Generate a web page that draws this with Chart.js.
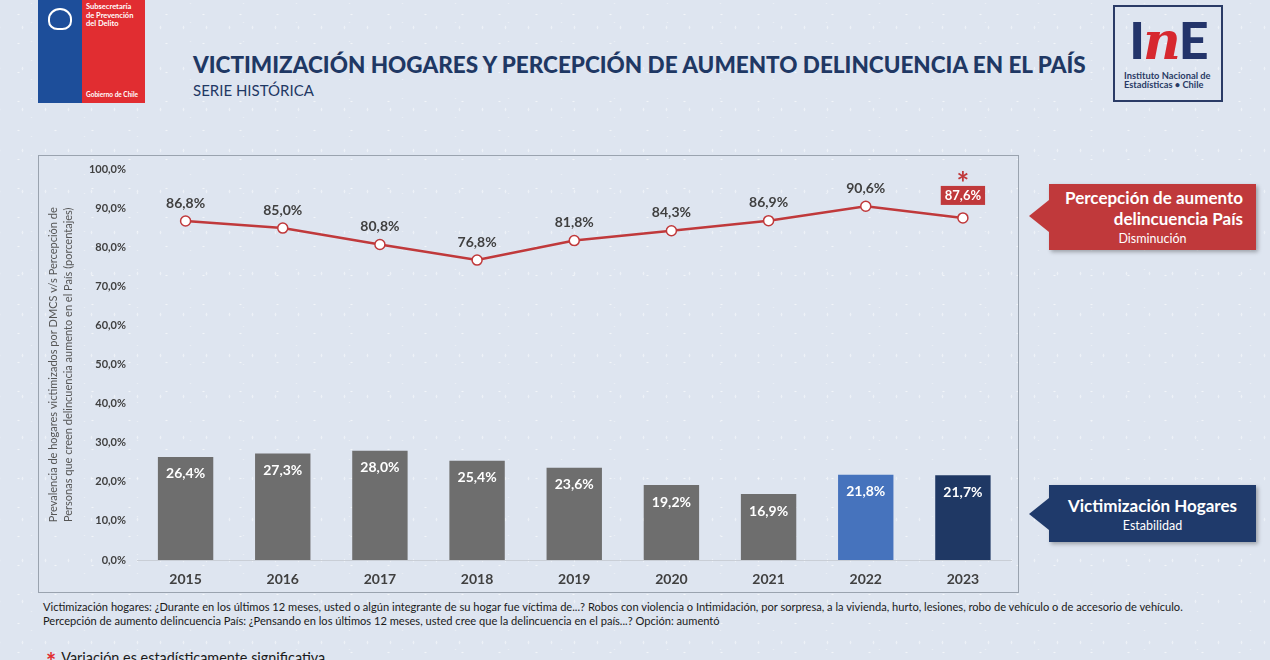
<!DOCTYPE html>
<html lang="es">
<head>
<meta charset="UTF-8">
<title>Victimización hogares y percepción de aumento delincuencia</title>
<script src="https://cdn.jsdelivr.net/npm/chart.js"></script>
<style>
    body {
        margin: 0;
        width: 1270px;
        height: 660px;
        overflow: hidden;
        position: relative;
        font-family: Lato, "Open Sans", sans-serif;
        background-color: #dee5f0;
        background-image:
            radial-gradient(rgba(255,255,255,0.6) 0.7px, transparent 1.3px),
            radial-gradient(rgba(255,255,255,0.45) 0.6px, transparent 1.2px),
            radial-gradient(rgba(255,255,255,0.35) 0.6px, transparent 1.1px);
        background-size: 37px 29px, 23px 41px, 53px 19px;
        background-position: 0 0, 11px 7px, 5px 13px;
    }
    .abs { position: absolute; }
    #gob { left: 38px; top: 0; width: 107px; height: 103px; }
    #gob .blue { position: absolute; left: 0; top: 0; width: 44px; height: 103px; background: #1d4e9a; }
    #gob .red { position: absolute; left: 44px; top: 0; width: 63px; height: 103px; background: #e12d31; color: #fff; }
    #gob .red .t1 { position: absolute; left: 4px; top: 3px; font-size: 7.5px; line-height: 8.5px; font-weight: bold; }
    #gob .red .t2 { position: absolute; left: 4px; bottom: 5px; font-size: 6.5px; font-weight: bold; }
    #gob .emblem { position: absolute; left: 10px; top: 8px; width: 24px; height: 22px; border: 2px solid #fff; border-radius: 50% 50% 40% 40%; box-sizing: border-box; }
    #title { left: 193px; top: 51px; font-size: 22.5px; font-weight: 900; color: #1f3864; white-space: nowrap; }
    #subtitle { left: 193px; top: 81px; font-size: 15px; color: #1f3864; }
    #ine { left: 1113px; top: 5px; width: 110px; height: 97px; border: 2px solid #2a3b66; box-sizing: border-box; text-align: center; }
    #ine .big { margin-top: 6px; font-size: 52px; line-height: 52px; font-weight: 900; color: #23346a; letter-spacing: -2px; }
    #ine .big span { color: #d7282f; font-style: italic; font-family: "DejaVu Serif", serif; }
    #ine .small { margin-top: 5px; font-size: 9.3px; line-height: 8.5px; font-weight: bold; color: #2a3b66; text-align: left; padding-left: 9px; }
    #box { left: 38px; top: 155px; width: 981px; height: 438px; border: 1px solid #9aa3af; box-sizing: border-box; }
    #box canvas { display: block; }
    .callout { position: absolute; color: #fff; box-shadow: 2px 2px 4px rgba(0,0,0,0.3); }
    .callout .tip { position: absolute; left: -20px; width: 0; height: 0; border-top: 16px solid transparent; border-bottom: 16px solid transparent; }
    #cRed { left: 1049px; top: 184px; width: 207px; height: 66px; background: #c0393b; }
    #cRed .tip { top: 16px; border-right: 20px solid #c0393b; }
    #cRed .l1 { position: absolute; right: 13px; top: 3px; font-size: 17px; line-height: 21px; font-weight: bold; text-align: right; white-space: nowrap; }
    #cRed .l2 { position: absolute; left: 0; right: 0; top: 47px; font-size: 12.5px; text-align: center; }
    #cNavy { left: 1049px; top: 485px; width: 207px; height: 57px; background: #1f3a6b; }
    #cNavy .tip { top: 13px; border-right: 20px solid #1f3a6b; }
    #cNavy .l1 { position: absolute; left: 0; right: 0; top: 10px; font-size: 17px; font-weight: bold; text-align: center; }
    #cNavy .l2 { position: absolute; left: 0; right: 0; top: 33px; font-size: 12.5px; text-align: center; }
    .note { left: 43px; font-size: 11.1px; color: #1a1a1a; white-space: nowrap; }
    #sig { left: 46px; top: 647px; font-size: 14.4px; color: #1a1a1a; white-space: nowrap; }
    #sig b { color: #e12d31; font-size: 24px; vertical-align: -8px; margin-right: 5px; }
</style>
</head>
<body>
<div id="gob" class="abs">
    <div class="blue"><div class="emblem"></div></div>
    <div class="red">
        <div class="t1">Subsecretaría<br>de Prevención<br>del Delito</div>
        <div class="t2">Gobierno de Chile</div>
    </div>
</div>
<div id="title" class="abs">VICTIMIZACIÓN HOGARES Y PERCEPCIÓN DE AUMENTO DELINCUENCIA EN EL PAÍS</div>
<div id="subtitle" class="abs">SERIE HISTÓRICA</div>
<div id="ine" class="abs">
    <div class="big">I<span>n</span>E</div>
    <div class="small">Instituto Nacional de<br>Estadísticas • Chile</div>
</div>

<div id="box" class="abs"><canvas id="chart" width="979" height="436"></canvas></div>

<div id="cRed" class="callout"><div class="tip"></div>
    <div class="l1">Percepción de aumento<br>delincuencia País</div>
    <div class="l2">Disminución</div>
</div>
<div id="cNavy" class="callout"><div class="tip"></div>
    <div class="l1">Victimización Hogares</div>
    <div class="l2">Estabilidad</div>
</div>

<div class="abs note" style="top:600px">Victimización hogares: ¿Durante en los últimos 12 meses, usted o algún integrante de su hogar fue víctima de...? Robos con violencia o Intimidación, por sorpresa, a la vivienda, hurto, lesiones, robo de vehículo o de accesorio de vehículo.</div>
<div class="abs note" style="top:614px">Percepción de aumento delincuencia País: ¿Pensando en los últimos 12 meses, usted cree que la delincuencia en el país...? Opción: aumentó</div>
<div id="sig" class="abs"><b>*</b>Variación es estadísticamente significativa</div>

<script>
    const years = ['2015', '2016', '2017', '2018', '2019', '2020', '2021', '2022', '2023'];
    const victimizacion = [26.4, 27.3, 28.0, 25.4, 23.6, 19.2, 16.9, 21.8, 21.7];
    const percepcion = [86.8, 85.0, 80.8, 76.8, 81.8, 84.3, 86.9, 90.6, 87.6];
    const significativo = [false, false, false, false, false, false, false, false, true];

    const barColors = ['#6e6e6e', '#6e6e6e', '#6e6e6e', '#6e6e6e', '#6e6e6e', '#6e6e6e', '#6e6e6e', '#4673bd', '#1f3864'];
    const RED = '#c0393b';

    function pct(v) {
        return v.toFixed(1).replace('.', ',') + '%';
    }

    // etiquetas de valores (sin plugin datalabels)
    const labelPlugin = {
        id: 'valueLabels',
        afterDatasetsDraw(chart) {
            const ctx = chart.ctx;
            ctx.save();
            ctx.textAlign = 'center';
            ctx.textBaseline = 'middle';

            chart.getDatasetMeta(0).data.forEach((bar, i) => {
                ctx.font = 'bold 14px Lato, sans-serif';
                ctx.fillStyle = '#ffffff';
                ctx.fillText(pct(victimizacion[i]), bar.x, bar.y + 17);
            });

            chart.getDatasetMeta(1).data.forEach((pt, i) => {
                const txt = pct(percepcion[i]);
                if (significativo[i]) {
                    ctx.font = 'bold 13px Lato, sans-serif';
                    const w = ctx.measureText(txt).width + 8;
                    ctx.fillStyle = RED;
                    ctx.fillRect(pt.x - w / 2, pt.y - 32, w, 19);
                    ctx.fillStyle = '#ffffff';
                    ctx.fillText(txt, pt.x, pt.y - 22);
                    ctx.fillStyle = RED;
                    ctx.font = 'bold 30px Lato, sans-serif';
                    ctx.fillText('*', pt.x, pt.y - 34);
                } else {
                    ctx.font = 'bold 14px Lato, sans-serif';
                    ctx.fillStyle = '#404040';
                    ctx.fillText(txt, pt.x, pt.y - 18);
                }
            });
            ctx.restore();
        }
    };

    new Chart(document.getElementById('chart'), {
        data: {
            labels: years,
            datasets: [
                {
                    type: 'bar',
                    label: 'Victimización Hogares',
                    data: victimizacion,
                    backgroundColor: barColors,
                    barPercentage: 0.57,
                    categoryPercentage: 1,
                    order: 2
                },
                {
                    type: 'line',
                    label: 'Percepción de aumento delincuencia País',
                    data: percepcion,
                    borderColor: RED,
                    borderWidth: 2.5,
                    pointRadius: 5,
                    pointBorderWidth: 1.5,
                    pointBackgroundColor: '#ffffff',
                    pointBorderColor: RED,
                    tension: 0,
                    order: 1
                }
            ]
        },
        options: {
            responsive: false,
            animation: false,
            layout: { padding: { top: 13.5, right: 0, left: 0, bottom: 0 } },
            plugins: {
                legend: { display: false },
                tooltip: { enabled: false }
            },
            scales: {
                x: {
                    grid: { display: false, drawTicks: false },
                    border: { display: true, color: '#c9ced6', width: 1 },
                    ticks: { padding: 11, color: '#404040', font: { family: 'Lato', size: 14, weight: 'bold' } },
                    afterFit(scale) { scale.height = 32; }
                },
                y: {
                    min: 0,
                    max: 100,
                    grid: { display: false, drawTicks: false },
                    border: { display: false },
                    ticks: {
                        stepSize: 10,
                        padding: 11,
                        color: '#404040',
                        font: { family: 'Lato', size: 11, weight: 'bold' },
                        callback: v => pct(v)
                    },
                    title: {
                        display: true,
                        text: ['Prevalencia de hogares victimizados por DMCS v/s Percepción de',
                               'Personas que creen delincuencia aumento en el País (porcentajes)'],
                        color: '#555555',
                        font: { family: 'Lato', size: 11, lineHeight: 1.45 },
                        padding: { top: 6, bottom: 0 }
                    },
                    afterFit(scale) {
                        scale.width = 98;
                        scale.paddingTop = 0;
                        scale.paddingBottom = 0;
                    }
                }
            }
        },
        plugins: [labelPlugin]
    });
</script>
</body>
</html>
